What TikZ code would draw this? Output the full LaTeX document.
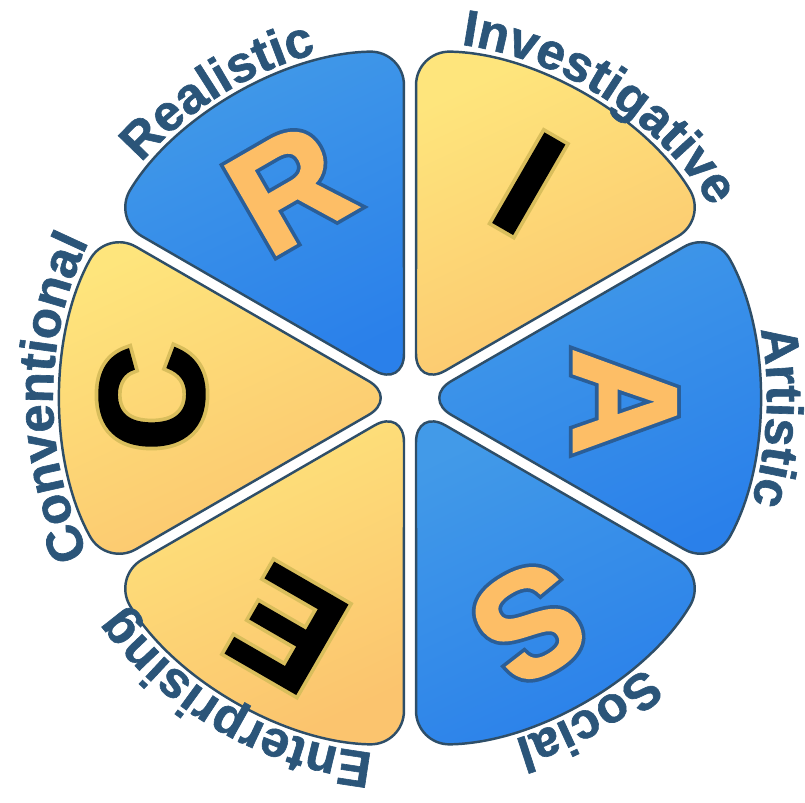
\documentclass[tikz,border=0pt]{standalone}
\usepackage{fontspec}
\setmainfont{Liberation Sans}
\newfontfamily\rimfont[FakeBold=7]{Liberation Sans}
\newfontfamily\fillfont[FakeBold=2]{Liberation Sans}
\newfontfamily\namefont[FakeBold=1.2]{Liberation Sans}
\usetikzlibrary{positioning,calc,decorations.text}
\definecolor{blueA}{HTML}{429AE8}
\definecolor{blueB}{HTML}{2A80EA}
\definecolor{yelA}{HTML}{FEE57C}
\definecolor{yelB}{HTML}{FBC46E}
\definecolor{rimcol}{HTML}{2E4E68}
\definecolor{labcol}{HTML}{2B5579}
\definecolor{orng}{HTML}{FDBE66}
\definecolor{orngrim}{HTML}{2A5E98}
\definecolor{glowcol}{HTML}{D9BE5C}
\def\R{3.47}
\def\lblfont{\namefont\bfseries\fontsize{14.5}{14.5}\selectfont}
% letter with a rim: rim colour, fill colour, letter
\newcommand{\rimletter}[3]{\rlap{\rimfont\bfseries\color{#1}#3}{\fillfont\bfseries\color{#2}#3}}
\tikzset{bsect/.style={draw=rimcol,line width=0.7pt,rounded corners=3.4mm,top color=blueA,bottom color=blueB,shading angle=25}}
\tikzset{ysect/.style={draw=rimcol,line width=0.7pt,rounded corners=3.4mm,top color=yelA,bottom color=yelB,shading angle=25}}
\tikzset{lbl/.style={decorate,decoration={text along path,text align=center,text color=labcol}}}
\tikzset{bigletter/.style={inner sep=0pt,font=\fontsize{42}{42}\selectfont}}

\begin{document}
\begin{tikzpicture}
	\useasboundingbox (-4.10,-4.05) rectangle (3.95,3.98);
	% sectors
	\draw[bsect] (120:0.12) -- (91:\R) arc[start angle=91,end angle=149,radius=\R] -- cycle;
	\draw[ysect] (60:0.12) -- (31:\R) arc[start angle=31,end angle=89,radius=\R] -- cycle;
	\draw[bsect] (0:0.12) -- (-29:\R) arc[start angle=-29,end angle=29,radius=\R] -- cycle;
	\draw[bsect] (-60:0.12) -- (-89:\R) arc[start angle=-89,end angle=-31,radius=\R] -- cycle;
	\draw[ysect] (-120:0.12) -- (-149:\R) arc[start angle=-149,end angle=-91,radius=\R] -- cycle;
	\draw[ysect] (180:0.12) -- (151:\R) arc[start angle=151,end angle=209,radius=\R] -- cycle;

	% letters
	\node[bigletter,rotate=30] (r) at (120:2.42) {\rimletter{orngrim}{orng}{R}};
	\node[bigletter,rotate=-30] (i) at (61:2.45) {\rimletter{glowcol}{black}{I}};
	\node[bigletter,rotate=-90] (a) at (-1:2.15) {\rimletter{orngrim}{orng}{A}};
	\node[bigletter,rotate=-150] (s) at (-62:2.55) {\rimletter{orngrim}{orng}{S}};
	\node[bigletter,rotate=150] (e) at (-118:2.62) {\rimletter{glowcol}{black}{E}};
	\node[bigletter,rotate=90] (c) at (180:2.58) {\rimletter{glowcol}{black}{C}};

	% names round the wheel
	\path[lbl,decoration={text={|\lblfont|Realistic}}] (172:3.57) arc[start angle=172,end angle=72,radius=3.57];
	\path[lbl,decoration={text={|\lblfont|Investigative}}] (107:3.57) arc[start angle=107,end angle=7,radius=3.57];
	\path[lbl,decoration={text={|\lblfont|Artistic}}] (47:3.57) arc[start angle=47,end angle=-53,radius=3.57];
	\path[lbl,decoration={text={|\lblfont|Social}}] (-11:3.57) arc[start angle=-11,end angle=-111,radius=3.57];
	\path[lbl,decoration={text={|\lblfont|Enterprising}}] (-70:3.57) arc[start angle=-70,end angle=-170,radius=3.57];
	\path[lbl,decoration={text={|\lblfont|Conventional}}] (230:3.57) arc[start angle=230,end angle=130,radius=3.57];
\end{tikzpicture}
\end{document}
